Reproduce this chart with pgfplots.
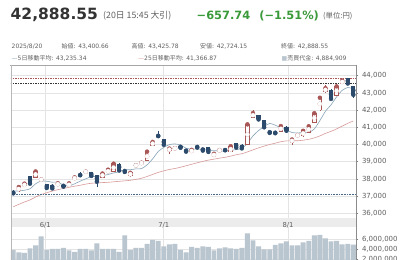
\documentclass[border=0pt]{standalone}
\usepackage{pgfplots}
\pgfplotsset{compat=1.18}
\usepackage{pgfplotstable}
\usepackage{fontspec}
\setmainfont{DejaVu Sans}
\newfontfamily\jp{Noto Sans CJK JP}
\definecolor{upred}{HTML}{A85656}
\definecolor{downblue}{HTML}{2C4A6B}
\definecolor{ma5}{HTML}{86A3B8}
\definecolor{ma25}{HTML}{D89A9A}
\definecolor{volc}{HTML}{B9C6CF}
\definecolor{gridc}{HTML}{E4E4E4}
\definecolor{txtgray}{HTML}{606060}
\definecolor{hdr}{HTML}{333333}
\definecolor{upgreen}{HTML}{3A9A3A}
\definecolor{bandc}{HTML}{ECECEC}
\definecolor{lowblue}{HTML}{4A6A8A}

\pgfplotstableread{
i O H L C M5 M25 V
0 37240 37330 37110 37160 37295 36378 3.8
1 37300 37600 37260 37531 37301 36523 3.3
2 37580 37790 37560 37724 37340 36657 3.2
3 38150 38180 37700 37722 37425 36776 4.1
4 38090 38520 38060 38432 37714 36942 4.7
5 37950 38080 37850 37965 37875 37092 6.5
6 37690 37710 37330 37470 37863 37196 3.8
7 37650 37680 37420 37446 37807 37293 4.0
8 37640 37800 37620 37747 37812 37374 4.0
9 37650 37700 37520 37554 37636 37443 4.2
10 37580 37780 37560 37741 37592 37511 3.7
11 37990 38150 37970 38088 37715 37576 3.4
12 38240 38380 38150 38211 37868 37631 4.0
13 38400 38480 38300 38421 38003 37697 4.0
14 38390 38420 38150 38173 38127 37747 3.7
15 38200 38230 37540 37834 38145 37760 5.1
16 38100 38340 38060 38311 38190 37787 4.0
17 38360 38580 38340 38536 38255 37801 4.0
18 38420 38920 38400 38885 38348 37831 4.0
19 38880 38920 38460 38488 38411 37860 3.4
20 38520 38560 38380 38403 38525 37886 6.7
21 38200 38400 38100 38354 38533 37920 3.8
22 38770 38950 38700 38790 38584 37971 4.2
23 38900 39000 38850 38942 38595 38037 4.2
24 39050 39600 39020 39584 38815 38140 5.0
25 39950 40200 39900 40150 39164 38260 5.8
26 40520 40760 40400 40487 39591 38378 5.6
27 40320 40340 39950 39986 39830 38469 4.5
28 39640 39800 39450 39762 39994 38550 4.9
29 39760 39860 39700 39785 40034 38605 5.0
30 39930 39950 39780 39810 39966 38678 3.8
31 39700 39720 39560 39587 39786 38763 3.3
32 39560 39720 39540 39688 39726 38853 4.4
33 39900 39920 39780 39821 39738 38936 4.2
34 39780 39800 39620 39646 39710 39019 4.5
35 39850 39870 39520 39569 39662 39092 4.4
36 39330 39480 39290 39459 39637 39147 3.7
37 39640 39720 39600 39678 39635 39206 4.1
38 39700 39760 39600 39663 39603 39256 4.3
39 39560 39920 39540 39901 39654 39325 4.1
40 40060 40080 39790 39819 39704 39404 4.0
41 39960 40000 39700 39774 39767 39463 4.2
42 40000 41250 39980 41171 40066 39568 7.1
43 41580 41980 41540 41826 40498 39686 5.7
44 41700 41720 41400 41456 40809 39804 4.5
45 41420 41440 40950 40998 41045 39908 3.9
46 40760 40800 40620 40674 41225 40001 3.9
47 40720 40760 40620 40654 41122 40076 4.8
48 40760 41090 40740 41069 40970 40161 5.1
49 41030 41050 40660 40799 40839 40209 5.5
50 40130 40320 39990 40290 40697 40215 4.7
51 40520 40640 40470 40549 40672 40217 4.7
52 40500 40830 40460 40794 40700 40250 5.3
53 40700 41180 40680 41059 40698 40302 5.6
54 41260 41880 41230 41820 40902 40383 6.7
55 42000 42780 41950 42718 41388 40499 6.8
56 43080 43450 43000 43274 41933 40647 6.1
57 43150 43200 42600 42649 42304 40765 5.5
58 42850 43450 42830 43378 42768 40907 5.6
59 43560 43830 43500 43714 43147 41070 4.9
60 43850 43880 43470 43546 43312 41229 5.0
61 43400.66 43425.78 42724.15 42888.55 43235 41366.87 4.88
}\candles

\newcommand\sm{\fontsize{6}{7}\selectfont}

\begin{document}
\begin{tikzpicture}
\fill[white] (0pt,0pt) rectangle (400pt,260pt);
\fill[bandc] (11pt,33pt) rectangle (356pt,42pt);

% price panel
\begin{axis}[
  at={(11pt,42pt)}, anchor=south west, scale only axis,
  width=345pt, height=153pt,
  xmin=-0.41, xmax=61.48, ymin=35727, ymax=44622,
  axis line style={draw=none},
  ytick={36000,37000,...,44000},
  scaled y ticks=false,
  xtick={5.75,27,49.3}, xticklabels={6/1,7/1,8/1},
  xmajorgrids, ymajorgrids, grid style={gridc, line width=0.6pt},
  x tick style={draw=none},
  xticklabel style={anchor=center, yshift=-4.6pt, font=\fontsize{6.8}{7}\selectfont, text=txtgray},
  ytick pos=right, yticklabel pos=right,
  y tick style={draw=gray, line width=0.5pt}, tick align=outside, major tick length=2.5pt,
  yticklabel style={font=\fontsize{7}{8}\selectfont, text=txtgray, /pgf/number format/1000 sep={,}},
  /pgf/number format/assume math mode=true,
]
\addplot[ma25, line width=0.6pt, smooth, tension=0.4] table[x=i,y=M25] {\candles};
\addplot[ma5, line width=0.6pt, smooth, tension=0.4] table[x=i,y=M5] {\candles};
\addplot[upred, line width=0.5pt, dash pattern=on 1.5pt off 1pt] coordinates {(-1,43880) (63,43880)};
\addplot[hdr, line width=0.5pt, dash pattern=on 1.5pt off 1pt] coordinates {(-1,43546.29) (63,43546.29)};
\addplot[lowblue, line width=0.5pt, dash pattern=on 0.8pt off 0.8pt] coordinates {(-1,37110) (63,37110)};
% wicks up
\addplot[upred, only marks, mark=none,
  restrict expr to domain={\thisrow{C}-\thisrow{O}}{0:100000},
  error bars/.cd, y dir=both, y explicit, error mark=none,
  error bar style={line width=0.6pt}]
  table[x=i, y=C, y error plus expr={\thisrow{H}-\thisrow{C}}, y error minus expr={\thisrow{C}-\thisrow{L}}] {\candles};
% wicks down
\addplot[downblue, only marks, mark=none,
  restrict expr to domain={\thisrow{O}-\thisrow{C}}{0.0001:100000},
  error bars/.cd, y dir=both, y explicit, error mark=none,
  error bar style={line width=0.6pt}]
  table[x=i, y=C, y error plus expr={\thisrow{H}-\thisrow{C}}, y error minus expr={\thisrow{C}-\thisrow{L}}] {\candles};
% bodies down
\addplot[downblue, only marks, mark=none,
  restrict expr to domain={\thisrow{O}-\thisrow{C}}{0.0001:100000},
  error bars/.cd, y dir=both, y explicit, error mark=none,
  error bar style={line width=4.2pt, line cap=butt}]
  table[x=i, y expr={(\thisrow{O}+\thisrow{C})/2}, y error expr={max(abs(\thisrow{O}-\thisrow{C})/2,25)}] {\candles};
% bodies up: outline
\addplot[upred, only marks, mark=none,
  restrict expr to domain={\thisrow{C}-\thisrow{O}}{0:100000},
  error bars/.cd, y dir=both, y explicit, error mark=none,
  error bar style={line width=4.4pt, line cap=butt}]
  table[x=i, y expr={(\thisrow{O}+\thisrow{C})/2}, y error expr={max(abs(\thisrow{C}-\thisrow{O})/2+20,25)}] {\candles};
% bodies up: white inside
\addplot[white, only marks, mark=none,
  restrict expr to domain={\thisrow{C}-\thisrow{O}}{0:100000},
  error bars/.cd, y dir=both, y explicit, error mark=none,
  error bar style={line width=3.0pt, line cap=butt}]
  table[x=i, y expr={(\thisrow{O}+\thisrow{C})/2}, y error expr={max(abs(\thisrow{C}-\thisrow{O})/2-20,0)}] {\candles};
\end{axis}

% volume panel
\begin{axis}[
  at={(11pt,-9pt)}, anchor=south west, scale only axis,
  width=345pt, height=42pt,
  xmin=-0.41, xmax=61.48, ymin=0, ymax=8.4,
  axis line style={draw=none},
  xtick={5.75,27,49.3}, xticklabels={},
  x tick style={draw=none},
  xmajorgrids, ymajorgrids, grid style={gridc, line width=0.6pt},
  ytick={2,4,6}, yticklabels={{2,000,000},{4,000,000},{6,000,000}},
  ytick pos=right, yticklabel pos=right,
  y tick style={draw=gray, line width=0.5pt}, tick align=outside, major tick length=2.5pt,
  yticklabel style={font=\fontsize{7}{8}\selectfont, text=txtgray},
]
\addplot[ybar, bar width=4.9pt, fill=volc, draw=none] table[x=i,y=V] {\candles};
\end{axis}

% frame
\draw[black!35, line width=0.7pt] (10pt,195pt) -- (357pt,195pt);
\draw[black!28, line width=0.6pt] (11pt,195pt) -- (11pt,0pt);
\draw[black!45, line width=0.6pt] (356pt,195pt) -- (356pt,0pt);

% header
\node[anchor=base west, inner sep=0pt, text=hdr, font=\fontsize{15.5}{18}\selectfont\bfseries] at (10.5pt,240pt) {42,888.55};
\node[anchor=base west, inner sep=0pt, text=txtgray, font=\jp\fontsize{8.8}{10}\selectfont] at (103pt,241pt) {(20日 15:45 大引)};
\node[anchor=base west, inner sep=0pt, text=upgreen, font=\fontsize{11.4}{13}\selectfont\bfseries] at (196.5pt,240.5pt) {−657.74\hspace{0.8em}(−1.51\%)};
\node[anchor=base west, inner sep=0pt, text=txtgray, font=\jp\fontsize{7.4}{8}\selectfont] at (323pt,241pt) {(単位:円)};

% info rows
\begin{scope}[every node/.style={anchor=base west, inner sep=0pt, text=txtgray, font=\sm}]
\node at (11.5pt,211pt) {2025/8/20};
\node at (61.5pt,211pt) {{\jp 始値}: 43,400.66};
\node at (131.5pt,211pt) {{\jp 高値}: 43,425.78};
\node at (200pt,211pt) {{\jp 安値}: 42,724.15};
\node at (281pt,211pt) {{\jp 終値}: 42,888.55};
\node at (11.5pt,199.5pt) {\textcolor{ma5}{—}5{\jp 日移動平均}: 43,235.34};
\node at (138pt,199.5pt) {\textcolor{ma25}{—}25{\jp 日移動平均}: 41,366.87};
\node at (281.5pt,199.5pt) {\textcolor{volc}{■}{\jp 売買代金}: 4,884,909};
\end{scope}

\pgfresetboundingbox
\path[use as bounding box] (0pt,0pt) rectangle (400pt,260pt);
\end{tikzpicture}
\end{document}
